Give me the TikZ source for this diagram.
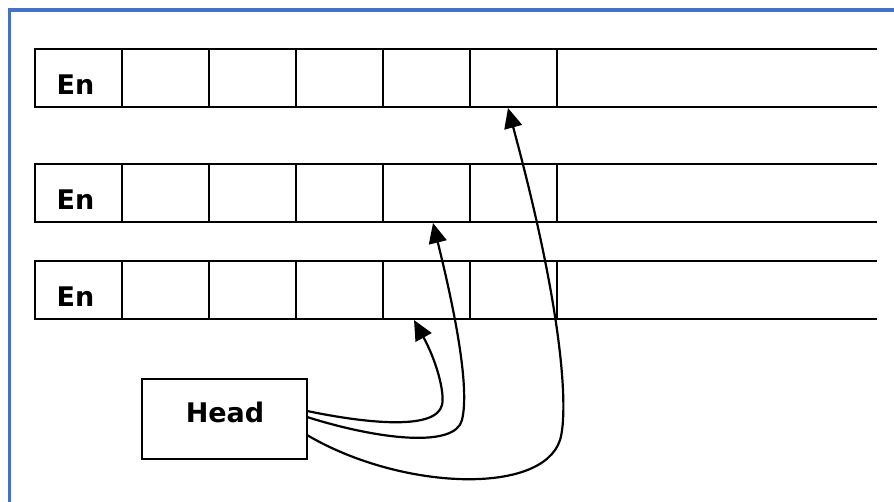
\documentclass[tikz,border=0pt]{standalone}
\usepackage{fontspec}
\setmainfont{DejaVu Sans}
\usetikzlibrary{arrows.meta,calc}
\definecolor{frameblue}{HTML}{4472C4}
\begin{document}
\begin{tikzpicture}[x=1pt,y=-1pt,
  cellbox/.style={draw=black, line width=2.2pt, minimum width=87pt, minimum height=58pt, inner sep=0pt, outer sep=0pt, anchor=north west},
  rowline/.style={draw=black, line width=2.2pt},
  lbl/.style={font=\fontsize{27}{32}\selectfont\bfseries, inner sep=0pt},
  headbox/.style={draw=black, line width=2.2pt, minimum width=165pt, minimum height=80pt, inner sep=0pt, outer sep=0pt},
  ptr/.style={line width=2.2pt, -{Triangle[length=20pt,width=18pt]}}
]
\useasboundingbox (0,0) rectangle (894,501);
\clip (0,0) rectangle (894,501);
\fill[white] (0,0) rectangle (894,501);
\draw[frameblue, line width=3.2pt] (9.5,10) rectangle (920,530);

\foreach \r/\y in {1/49,2/164,3/261} {
  \foreach \c in {1,...,6} {
    \node[cellbox] (r\r-\c) at ({35+87*(\c-1)},\y) {};
  }
  \draw[rowline] (r\r-6.north east) -- ++(320,0);
  \draw[rowline] (r\r-6.south east) -- ++(320,0);
  \node[lbl] (en\r) at (75.5,\y+36) {En};
}

\node[headbox] (head) at (224.5,419) {};
\node[lbl] (headtxt) at (225,412) {Head};

\draw[ptr] ($(head.east)+(0,-8)$) .. controls (370,424) and (436,430) .. (442,405)
  .. controls (445,392) and (436,360) .. ($(r3-5.south)+(-12.5,1)$);
\draw[ptr] ($(head.east)+(0,-2)$) .. controls (380,440) and (455,448) .. (462,420)
  .. controls (468,395) and (462,340) .. ($(r2-5.south)+(6.5,1)$);
\draw[ptr] ($(head.east)+(0,16)$) .. controls (400,490) and (542,496) .. (560,440)
  .. controls (567,418) and (568,330) .. ($(r1-6.south)+(-5.5,1)$);
\end{tikzpicture}
\end{document}
